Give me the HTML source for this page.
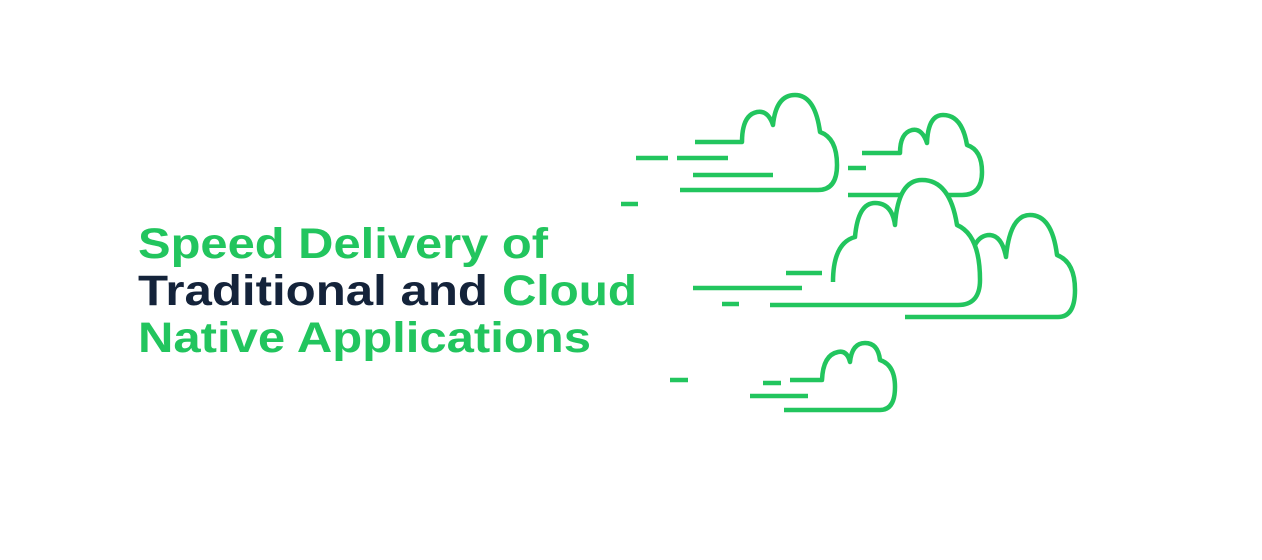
<!DOCTYPE html>
<html><head><meta charset="utf-8"><style>
html,body{margin:0;padding:0;background:#fff;}
svg{display:block}
</style></head><body>
<svg width="1262" height="560" viewBox="0 0 1262 560" xmlns="http://www.w3.org/2000/svg">
<g font-family="Liberation Sans, sans-serif" font-weight="bold" font-size="43">
<text x="138" y="258" fill="#22c55e" textLength="410" lengthAdjust="spacingAndGlyphs">Speed Delivery of</text>
<text x="138" y="305" fill="#14233a" textLength="350" lengthAdjust="spacingAndGlyphs">Traditional and</text>
<text x="502" y="305" fill="#22c55e" textLength="135" lengthAdjust="spacingAndGlyphs">Cloud</text>
<text x="138" y="352" fill="#22c55e" textLength="453" lengthAdjust="spacingAndGlyphs">Native Applications</text>
</g>
<g stroke="#22c55e" stroke-width="4.5" fill="#fff" stroke-linecap="butt" stroke-linejoin="round">
<!-- cloud 2 -->
<path d="M848,195 L962,195 Q982,195 982,172 Q982,150 967,145 Q962,115 943,115 Q928,115 927,143 Q922,128 912,130 Q900,133 900,153 L862,153"/>
<line x1="848" y1="168" x2="866" y2="168"/>
<!-- cloud 1 -->
<path d="M680,190 L818,190 Q837,190 837,165 Q837,138 820,132 Q815,95 795,95 Q776,95 773,125 Q768,110 757,112 Q742,115 742,142 L695,142"/>
<line x1="636" y1="158" x2="668" y2="158"/>
<line x1="677" y1="158" x2="728" y2="158"/>
<line x1="693" y1="175" x2="773" y2="175"/>
<line x1="621" y1="204" x2="638" y2="204"/>
<!-- cloud 4 -->
<path d="M905,317 L1058,317 Q1075,317 1075,290 Q1075,262 1057,255 Q1052,215 1030,215 Q1010,215 1006,257 Q1002,236 990,235 Q980,235 975,245 L975,317 Z" stroke="none"/>
<path d="M905,317 L1058,317 Q1075,317 1075,290 Q1075,262 1057,255 Q1052,215 1030,215 Q1010,215 1006,257 Q1002,236 990,235 Q980,235 975,245" fill="none"/>
<!-- cloud 3 -->
<path d="M833,305 L833,282 Q833,243 855,237 Q858,203 875,203 Q892,203 895,225 Q898,180 922,180 Q950,180 957,225 Q980,235 980,280 Q980,305 958,305 Z" stroke="none"/>
<path d="M770,305 L958,305 Q980,305 980,280 Q980,235 957,225 Q950,180 922,180 Q898,180 895,225 Q892,203 875,203 Q858,203 855,237 Q833,243 833,282" fill="none"/>
<line x1="786" y1="273" x2="822" y2="273"/>
<line x1="693" y1="288" x2="802" y2="288"/>
<line x1="722" y1="304" x2="739" y2="304"/>
<!-- cloud 5 -->
<path d="M784,410 L880,410 Q895,410 895,387 Q895,365 880,360 Q878,343 865,343 Q852,343 850,362 Q847,350 838,352 Q823,355 822,380 L790,380"/>
<line x1="763" y1="383" x2="781" y2="383"/>
<line x1="750" y1="396" x2="808" y2="396"/>
<line x1="670" y1="380" x2="688" y2="380"/>
</g>
</svg>
</body></html>
